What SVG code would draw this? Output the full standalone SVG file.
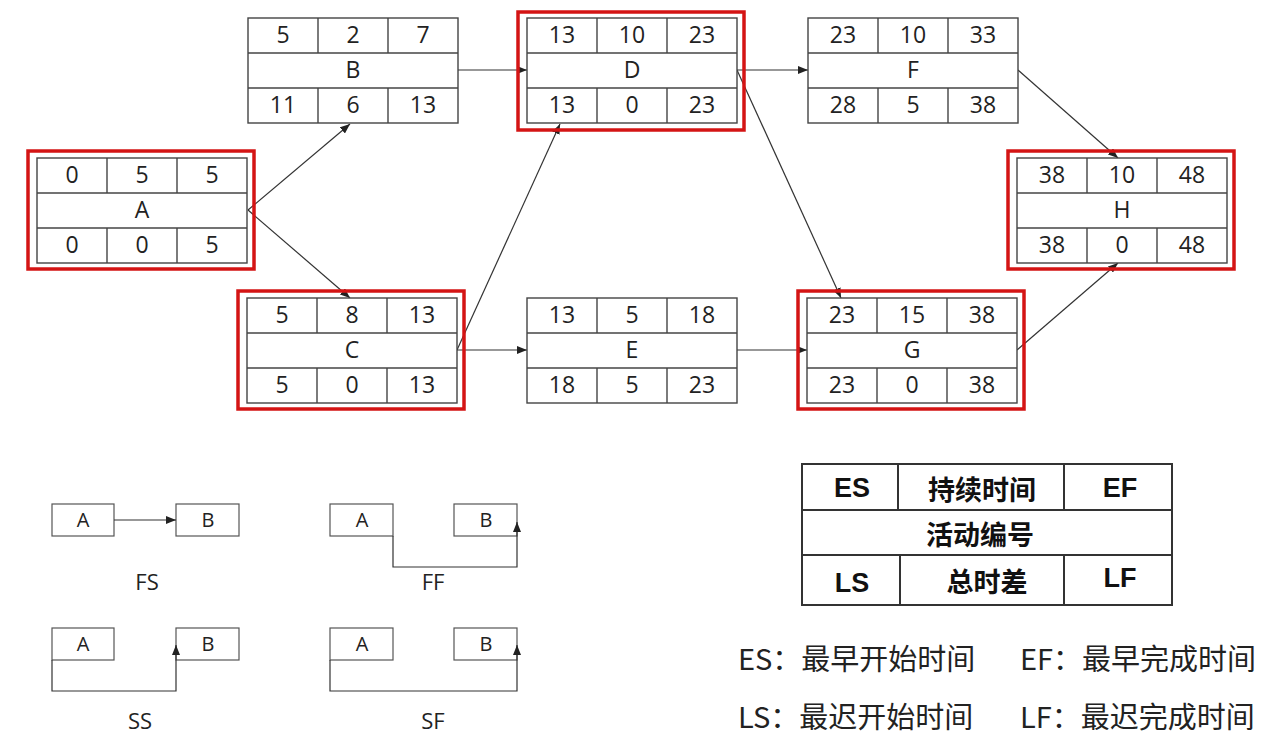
<svg xmlns="http://www.w3.org/2000/svg" width="1280" height="739" viewBox="0 0 1280 739">
<style>
.cell{fill:#fff;stroke:#444;stroke-width:1.4}
.ln{stroke:#444;stroke-width:1.4}
.crit{fill:none;stroke:#d41414;stroke-width:3.5}
.t{font-family:"Open Sans","Noto Sans",sans-serif;font-size:23px;fill:#222;text-anchor:middle}
.con{fill:none;stroke:#333;stroke-width:1.2}
.sb{fill:#fff;stroke:#555;stroke-width:1.2}
.st{font-family:"Open Sans","Noto Sans",sans-serif;font-size:20px;fill:#222;text-anchor:middle}
.sl{font-family:"Open Sans","Noto Sans",sans-serif;font-size:22px;fill:#222;text-anchor:middle}
.lg{fill:none;stroke:#333;stroke-width:2}
.lb{font-family:"Liberation Sans","Noto Sans CJK SC",sans-serif;font-size:27px;font-weight:bold;fill:#111;text-anchor:middle}
.lc{font-family:"Noto Sans CJK SC",sans-serif;font-size:27px;font-weight:bold;fill:#111;text-anchor:middle}
.nt{font-family:"Noto Sans CJK SC",sans-serif;font-size:29px;fill:#222}
</style>
<defs>
<marker id="ah" markerUnits="userSpaceOnUse" markerWidth="10" markerHeight="8" refX="10" refY="4" orient="auto">
<path d="M0,0 L10,4 L0,8 z" fill="#222"/>
</marker>
<g id="grid">
<rect class="cell" x="0" y="0" width="210" height="105"/>
<line class="ln" x1="0" y1="35" x2="210" y2="35"/>
<line class="ln" x1="0" y1="70" x2="210" y2="70"/>
<line class="ln" x1="70" y1="0" x2="70" y2="35"/>
<line class="ln" x1="140" y1="0" x2="140" y2="35"/>
<line class="ln" x1="70" y1="70" x2="70" y2="105"/>
<line class="ln" x1="140" y1="70" x2="140" y2="105"/>
</g>
</defs>
<rect width="1280" height="739" fill="#fff"/>

<g id="connectors">
<path class="con" d="M248,210 L350,124" marker-end="url(#ah)"/>
<path class="con" d="M248,210 L350,298" marker-end="url(#ah)"/>
<path class="con" d="M458,70 L527,70" marker-end="url(#ah)"/>
<path class="con" d="M457,350 L560,124" marker-end="url(#ah)"/>
<path class="con" d="M457,350 L527,350" marker-end="url(#ah)"/>
<path class="con" d="M737,70 L808,70" marker-end="url(#ah)"/>
<path class="con" d="M737,70 L841,298" marker-end="url(#ah)"/>
<path class="con" d="M737,350 L807,350" marker-end="url(#ah)"/>
<path class="con" d="M1018,70 L1118,158" marker-end="url(#ah)"/>
<path class="con" d="M1017,350 L1118,263" marker-end="url(#ah)"/>
</g>

<g id="node-A" transform="translate(37,158)">
<rect class="crit" x="-9" y="-7" width="226" height="118"/>
<use href="#grid"/>
<text class="t" x="35" y="25">0</text><text class="t" x="105" y="25">5</text><text class="t" x="175" y="25">5</text>
<text class="t" x="105" y="60">A</text>
<text class="t" x="35" y="95">0</text><text class="t" x="105" y="95">0</text><text class="t" x="175" y="95">5</text>
</g>

<g id="node-B" transform="translate(248,18)">
<use href="#grid"/>
<text class="t" x="35" y="25">5</text><text class="t" x="105" y="25">2</text><text class="t" x="175" y="25">7</text>
<text class="t" x="105" y="60">B</text>
<text class="t" x="35" y="95">11</text><text class="t" x="105" y="95">6</text><text class="t" x="175" y="95">13</text>
</g>

<g id="node-C" transform="translate(247,298)">
<rect class="crit" x="-9" y="-7" width="226" height="118"/>
<use href="#grid"/>
<text class="t" x="35" y="25">5</text><text class="t" x="105" y="25">8</text><text class="t" x="175" y="25">13</text>
<text class="t" x="105" y="60">C</text>
<text class="t" x="35" y="95">5</text><text class="t" x="105" y="95">0</text><text class="t" x="175" y="95">13</text>
</g>

<g id="node-D" transform="translate(527,18)">
<rect class="crit" x="-9" y="-6" width="226" height="118"/>
<use href="#grid"/>
<text class="t" x="35" y="25">13</text><text class="t" x="105" y="25">10</text><text class="t" x="175" y="25">23</text>
<text class="t" x="105" y="60">D</text>
<text class="t" x="35" y="95">13</text><text class="t" x="105" y="95">0</text><text class="t" x="175" y="95">23</text>
</g>

<g id="node-E" transform="translate(527,298)">
<use href="#grid"/>
<text class="t" x="35" y="25">13</text><text class="t" x="105" y="25">5</text><text class="t" x="175" y="25">18</text>
<text class="t" x="105" y="60">E</text>
<text class="t" x="35" y="95">18</text><text class="t" x="105" y="95">5</text><text class="t" x="175" y="95">23</text>
</g>

<g id="node-F" transform="translate(808,18)">
<use href="#grid"/>
<text class="t" x="35" y="25">23</text><text class="t" x="105" y="25">10</text><text class="t" x="175" y="25">33</text>
<text class="t" x="105" y="60">F</text>
<text class="t" x="35" y="95">28</text><text class="t" x="105" y="95">5</text><text class="t" x="175" y="95">38</text>
</g>

<g id="node-G" transform="translate(807,298)">
<rect class="crit" x="-9" y="-7" width="226" height="118"/>
<use href="#grid"/>
<text class="t" x="35" y="25">23</text><text class="t" x="105" y="25">15</text><text class="t" x="175" y="25">38</text>
<text class="t" x="105" y="60">G</text>
<text class="t" x="35" y="95">23</text><text class="t" x="105" y="95">0</text><text class="t" x="175" y="95">38</text>
</g>

<g id="node-H" transform="translate(1017,158)">
<rect class="crit" x="-9" y="-7" width="226" height="118"/>
<use href="#grid"/>
<text class="t" x="35" y="25">38</text><text class="t" x="105" y="25">10</text><text class="t" x="175" y="25">48</text>
<text class="t" x="105" y="60">H</text>
<text class="t" x="35" y="95">38</text><text class="t" x="105" y="95">0</text><text class="t" x="175" y="95">48</text>
</g>

<g id="dep-FS">
<rect class="sb" x="52" y="504" width="62" height="32"/><text class="st" x="83" y="527">A</text>
<rect class="sb" x="176" y="504" width="63" height="32"/><text class="st" x="208" y="527">B</text>
<path class="con" d="M114,520 L176,520" marker-end="url(#ah)"/>
<text class="sl" x="147" y="590">FS</text>
</g>
<g id="dep-FF">
<rect class="sb" x="330" y="504" width="63" height="32"/><text class="st" x="362" y="527">A</text>
<rect class="sb" x="454" y="504" width="63" height="32"/><text class="st" x="486" y="527">B</text>
<path class="con" d="M393,536 V567 H517 V522" marker-end="url(#ah)"/>
<text class="sl" x="433" y="590">FF</text>
</g>
<g id="dep-SS">
<rect class="sb" x="52" y="628" width="62" height="32"/><text class="st" x="83" y="651">A</text>
<rect class="sb" x="176" y="628" width="63" height="32"/><text class="st" x="208" y="651">B</text>
<path class="con" d="M52,660 V691 H176 V645" marker-end="url(#ah)"/>
<text class="sl" x="140" y="729">SS</text>
</g>
<g id="dep-SF">
<rect class="sb" x="330" y="628" width="63" height="32"/><text class="st" x="362" y="651">A</text>
<rect class="sb" x="454" y="628" width="63" height="32"/><text class="st" x="486" y="651">B</text>
<path class="con" d="M330,660 V691 H517 V645" marker-end="url(#ah)"/>
<text class="sl" x="433" y="729">SF</text>
</g>

<g id="legend-table">
<rect class="lg" x="802" y="464" width="370" height="141" fill="#fff"/>
<line class="lg" x1="802" y1="510" x2="1172" y2="510"/>
<line class="lg" x1="802" y1="555" x2="1172" y2="555"/>
<line class="lg" x1="898" y1="464" x2="898" y2="510"/>
<line class="lg" x1="1064" y1="464" x2="1064" y2="510"/>
<line class="lg" x1="900" y1="555" x2="900" y2="605"/>
<line class="lg" x1="1064" y1="555" x2="1064" y2="605"/>
<text class="lb" x="852" y="497">ES</text>
<text class="lc" x="982" y="500">持续时间</text>
<text class="lb" x="1120" y="497">EF</text>
<text class="lc" x="980" y="545">活动编号</text>
<text class="lb" x="852" y="592">LS</text>
<text class="lc" x="987" y="592">总时差</text>
<text class="lb" x="1120" y="587">LF</text>
</g>

<g id="legend-notes">
<text class="nt" x="738" y="670">ES：最早开始时间</text>
<text class="nt" x="1020" y="670">EF：最早完成时间</text>
<text class="nt" x="738" y="728">LS：最迟开始时间</text>
<text class="nt" x="1020" y="728">LF：最迟完成时间</text>
</g>
</svg>
